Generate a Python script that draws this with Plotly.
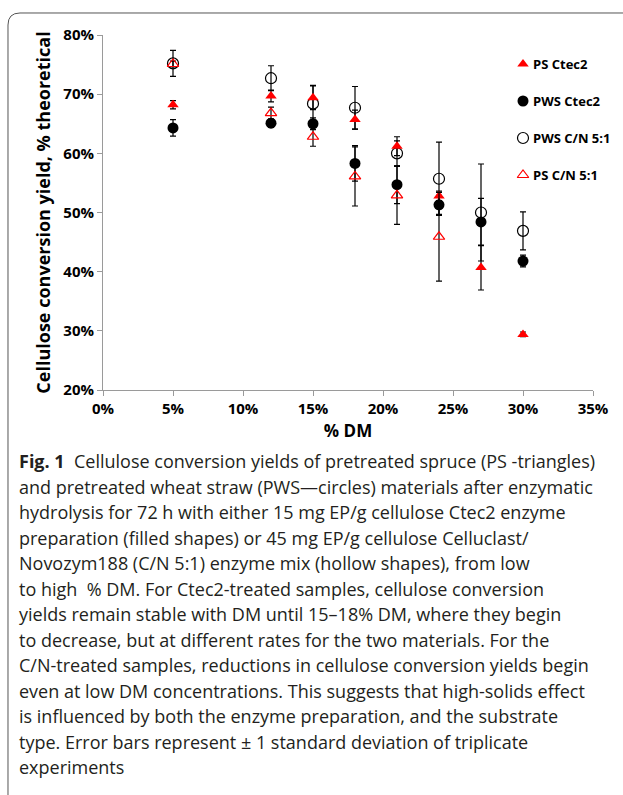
import plotly.graph_objects as go

# ---------------- data ----------------
dm = [5, 12, 15, 18, 21, 24, 27, 30]
dm_ps_cn = [5, 12, 15, 18, 21, 24]

ps_ctec2 = [68.2, 69.7, 69.4, 65.7, 61.2, 52.8, 40.7, 29.4]
ps_ctec2_err = [0.7, 1.0, 2.0, 1.6, 1.6, 0.8, 3.8, 0.4]

pws_ctec2 = [64.3, 65.1, 65.0, 58.3, 54.7, 51.3, 48.4, 41.8]
pws_ctec2_err = [1.4, 0.7, 1.0, 3.0, 3.2, 1.6, 4.0, 1.0]

pws_cn = [75.2, 72.7, 68.4, 67.7, 60.0, 55.7, 50.0, 46.9]
pws_cn_err = [2.2, 2.1, 3.1, 3.6, 2.1, 6.2, 8.2, 3.2]

ps_cn = [75.1, 66.8, 62.8, 56.1, 52.9, 45.9]
ps_cn_err = [0.5, 1.0, 1.6, 5.0, 4.9, 7.5]

legend_labels = ["PS Ctec2", "PWS Ctec2", "PWS C/N 5:1", "PS C/N 5:1"]

caption_lines = [
    "<b>Fig. 1</b>  Cellulose conversion yields of pretreated spruce (PS -triangles)",
    "and pretreated wheat straw (PWS\u2014circles) materials after enzymatic",
    "hydrolysis for 72 h with either 15 mg EP/g cellulose Ctec2 enzyme",
    "preparation (filled shapes) or 45 mg EP/g cellulose Celluclast/",
    "Novozym188 (C/N 5:1) enzyme mix (hollow shapes), from low",
    "to high  % DM. For Ctec2-treated samples, cellulose conversion",
    "yields remain stable with DM until 15\u201318% DM, where they begin",
    "to decrease, but at different rates for the two materials. For the",
    "C/N-treated samples, reductions in cellulose conversion yields begin",
    "even at low DM concentrations. This suggests that high-solids effect",
    "is influenced by both the enzyme preparation, and the substrate",
    "type. Error bars represent \u00b1 1 standard deviation of triplicate",
    "experiments",
]

# ---------------- layout geometry ----------------
W, H = 623, 795
L, R, T, B = 103, 30, 35, 405
PW, PH = W - L - R, H - T - B


def px(xp):
    return (xp - L) / PW


def py(yp):
    return (H - B - yp) / PH


RED = "#ff0000"
BLACK = "#000000"
styles = {
    "PS Ctec2": dict(symbol="triangle-up", size=10, color=RED, line=dict(width=0)),
    "PWS Ctec2": dict(symbol="circle", size=11, color=BLACK, line=dict(width=0)),
    "PWS C/N 5:1": dict(symbol="circle-open", size=11, color=BLACK, line=dict(width=1.2, color=BLACK)),
    "PS C/N 5:1": dict(symbol="triangle-up-open", size=10, color=RED, line=dict(width=1.2, color=RED)),
}

series = [
    ("PWS Ctec2", dm, pws_ctec2, pws_ctec2_err),
    ("PWS C/N 5:1", dm, pws_cn, pws_cn_err),
    ("PS Ctec2", dm, ps_ctec2, ps_ctec2_err),
    ("PS C/N 5:1", dm_ps_cn, ps_cn, ps_cn_err),
]

fig = go.Figure()
for name, xs, ys, es in series:
    fig.add_trace(go.Scatter(
        x=xs, y=ys, mode="markers", name=name, showlegend=False,
        marker=styles[name],
        error_y=dict(type="data", array=es, visible=True, color=BLACK,
                     thickness=1.2, width=3),
    ))

# manual legend keys (overlay axis in fraction units)
leg_x = px(523)
leg_y0 = py(64)
leg_dy = 37 / PH
for i, name in enumerate(legend_labels):
    yy = leg_y0 - i * leg_dy
    fig.add_trace(go.Scatter(
        x=[leg_x], y=[yy], mode="markers", xaxis="x2", yaxis="y2",
        showlegend=False, hoverinfo="skip", marker=styles[name],
    ))
    fig.add_annotation(
        x=px(531), y=yy, xref="paper", yref="paper", xanchor="left", yanchor="middle",
        text="<b>%s</b>" % name, showarrow=False,
        font=dict(family="Open Sans", size=13, color="#000000"),
    )

AX = "#9a9a9a"
fig.update_layout(
    width=W, height=H,
    margin=dict(l=L, r=R, t=T, b=B, pad=0),
    paper_bgcolor="white", plot_bgcolor="white",
    font=dict(family="Open Sans", color="#000000"),
    xaxis=dict(
        range=[0, 35], dtick=5, tick0=0, ticksuffix="%",
        showgrid=False, zeroline=False, showline=True, linecolor=AX, linewidth=1,
        ticks="outside", ticklen=5, tickcolor=AX,
        tickfont=dict(family="Open Sans", size=15, color="#000000", weight="bold"),
        title=dict(text="<b>% DM</b>", font=dict(family="Open Sans", size=17), standoff=8),
    ),
    yaxis=dict(
        range=[20, 80], dtick=10, tick0=20, ticksuffix="%",
        showgrid=False, zeroline=False, showline=True, linecolor=AX, linewidth=1,
        ticks="outside", ticklen=5, tickcolor=AX,
        tickfont=dict(family="Open Sans", size=15, color="#000000", weight="bold"),
        title=dict(text="<b>Cellulose conversion yield, % theoretical</b>",
                   font=dict(family="Open Sans", size=18), standoff=8),
    ),
    xaxis2=dict(range=[0, 1], overlaying="x", visible=False, fixedrange=True),
    yaxis2=dict(range=[0, 1], overlaying="y", visible=False, fixedrange=True),
)

# caption lines
cap_y0 = 461
cap_dy = 25.5
for i, line in enumerate(caption_lines):
    fig.add_annotation(
        x=px(17), y=py(cap_y0 + i * cap_dy), xref="paper", yref="paper",
        xanchor="left", yanchor="middle", text=line, showarrow=False, align="left",
        font=dict(family="Open Sans", size=18, color="#231f20"),
    )

# rounded figure frame (top + left)
r = 12
x0, y0 = 8, 13
path = "M %f,%f L %f,%f Q %f,%f %f,%f L %f,%f" % (
    px(x0), py(H + 5), px(x0), py(y0 + r), px(x0), py(y0), px(x0 + r), py(y0), px(W + 5), py(y0))
fig.add_shape(type="path", path=path, xref="paper", yref="paper",
              line=dict(color="#555555", width=1))

fig.write_html(
    "out.html",
    config={"displayModeBar": False},
    post_script="document.body.style.margin='0';document.body.style.padding='0';"
                "document.documentElement.style.overflow='hidden';",
)
